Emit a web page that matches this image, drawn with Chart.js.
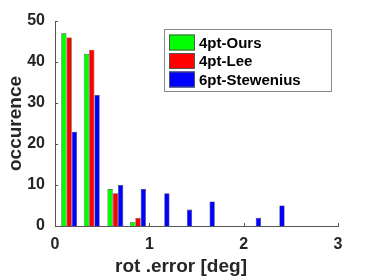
<!DOCTYPE html>
<html>
<head>
<meta charset="utf-8">
<script src="https://cdn.jsdelivr.net/npm/chart.js@4.4.0/dist/chart.umd.min.js"></script>
<style>
  body { margin: 0; background: #fff; }
  canvas { display: block; }
</style>
</head>
<body>
<canvas id="chart" width="374" height="277"></canvas>
<script>
// Histogram bin centres (deg) and counts per method
const binCenters = [0.15, 0.39, 0.64, 0.88, 1.13, 1.37, 1.61, 1.86, 2.10, 2.35];
const oursCounts = [47, 42, 9, 1, 0, 0, 0, 0, 0, 0];
const leeCounts = [46, 43, 8, 2, 0, 0, 0, 0, 0, 0];
const stewCounts = [23, 32, 10, 9, 8, 4, 6, 0, 2, 5];
const seriesNames = ['4pt-Ours', '4pt-Lee', '6pt-Stewenius'];
const seriesColors = ['#00ff00', '#ff0000', '#0000ff'];
const xTicks = [0, 1, 2, 3];
const yTicks = [0, 10, 20, 30, 40, 50];
const xTitle = 'rot .error [deg]';
const yTitle = 'occurence';

const FONT = '"Liberation Sans", Arial, sans-serif';
const INK = '#262626';

function toPoints(counts) {
    return counts.map((c, i) => ({ x: binCenters[i], y: c }));
}

// MATLAB style inward tick marks
const inwardTicks = {
    id: 'inwardTicks',
    afterDraw(chart) {
        const { ctx, chartArea, scales } = chart;
        ctx.save();
        ctx.strokeStyle = '#555';
        ctx.lineWidth = 1;
        ctx.beginPath();
        xTicks.forEach(v => {
            const px = Math.round(scales.x.getPixelForValue(v)) + 0.5;
            ctx.moveTo(px, chartArea.bottom);
            ctx.lineTo(px, chartArea.bottom - 3);
        });
        yTicks.forEach(v => {
            const py = Math.round(scales.y.getPixelForValue(v)) + 0.5;
            ctx.moveTo(chartArea.left, py);
            ctx.lineTo(chartArea.left + 3, py);
        });
        ctx.stroke();
        ctx.restore();
    }
};

// x label sits a bit left of the axes centre, as in the figure
const xLabel = {
    id: 'xLabel',
    afterDraw(chart) {
        const ctx = chart.ctx;
        ctx.save();
        ctx.font = 'bold 19px ' + FONT;
        ctx.fillStyle = INK;
        ctx.textAlign = 'center';
        ctx.textBaseline = 'alphabetic';
        ctx.fillText(xTitle, 181, 272);
        ctx.restore();
    }
};

// Boxed legend in the upper right of the axes
const boxLegend = {
    id: 'boxLegend',
    afterDraw(chart) {
        const ctx = chart.ctx;
        const x0 = 164, y0 = 29, w = 167, h = 62;
        ctx.save();
        ctx.fillStyle = '#fff';
        ctx.fillRect(x0, y0, w, h);
        ctx.strokeStyle = '#888';
        ctx.lineWidth = 1;
        ctx.strokeRect(x0 + 0.5, y0 + 0.5, w, h);
        ctx.font = 'bold 15px ' + FONT;
        ctx.textBaseline = 'middle';
        chart.data.datasets.forEach((ds, i) => {
            const cy = y0 + 13.5 + i * 18.5;
            ctx.fillStyle = ds.backgroundColor;
            ctx.fillRect(x0 + 5, cy - 8, 26, 16);
            ctx.strokeStyle = '#555';
            ctx.strokeRect(x0 + 5.5, cy - 7.5, 25, 15);
            ctx.fillStyle = '#000';
            ctx.fillText(ds.label, x0 + 35, cy + 1);
        });
        ctx.restore();
    }
};

const datasets = [oursCounts, leeCounts, stewCounts].map((counts, i) => ({
    label: seriesNames[i],
    data: toPoints(counts),
    backgroundColor: seriesColors[i],
    borderColor: '#333',
    borderWidth: 0.6,
    categoryPercentage: 0.7,
    barPercentage: 1.0
}));

new Chart(document.getElementById('chart'), {
    type: 'bar',
    data: { datasets },
    options: {
        responsive: false,
        animation: false,
        layout: { padding: { top: 21, right: 36, left: 0, bottom: 0 } },
        plugins: { legend: { display: false }, tooltip: { enabled: false } },
        scales: {
            x: {
                type: 'linear',
                min: 0, max: 3,
                offset: false,
                afterBuildTicks: s => { s.ticks = xTicks.map(v => ({ value: v })); },
                afterFit: s => { s.height = 51; },
                grid: { display: false, drawTicks: false },
                border: { display: true, color: '#555', width: 1 },
                ticks: { color: INK, padding: 9, font: { family: FONT, size: 16, weight: 'bold' } },
                title: { display: false }
            },
            y: {
                min: 0, max: 50,
                afterBuildTicks: s => { s.ticks = yTicks.map(v => ({ value: v })); },
                afterFit: s => { s.width = 55; },
                grid: { display: false, drawTicks: false },
                border: { display: true, color: '#555', width: 1 },
                ticks: { color: INK, padding: 10, font: { family: FONT, size: 16, weight: 'bold' } },
                title: {
                    display: true, text: yTitle, color: INK,
                    padding: { top: 4, bottom: 4 },
                    font: { family: FONT, size: 19, weight: 'bold' }
                }
            }
        }
    },
    plugins: [inwardTicks, xLabel, boxLegend]
});
</script>
</body>
</html>
